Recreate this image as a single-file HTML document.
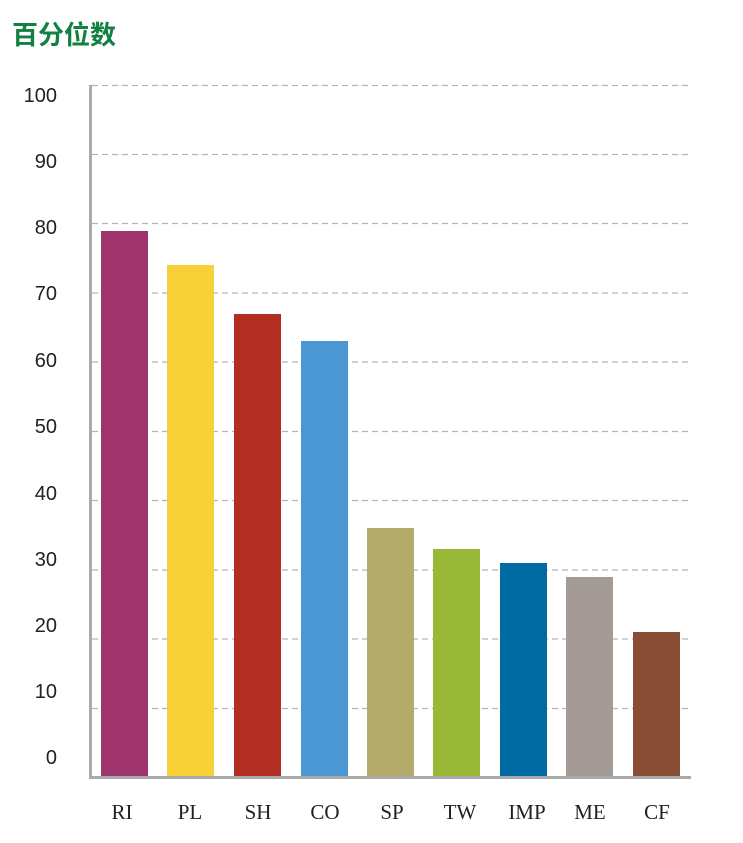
<!DOCTYPE html>
<html><head><meta charset="utf-8"><style>body{margin:0;background:#fff}</style></head>
<body>
<svg width="743" height="838" xmlns="http://www.w3.org/2000/svg">
<text x="12" y="44" font-family="Noto Sans CJK SC, sans-serif" font-weight="bold" font-size="26" fill="#128040">百分位数</text>
<g stroke="#b4b4b4" stroke-width="1.2" stroke-dasharray="6,4">
<line x1="92" x2="690" y1="85.5" y2="85.5"/><line x1="92" x2="690" y1="154.5" y2="154.5"/><line x1="92" x2="690" y1="223.5" y2="223.5"/><line x1="92" x2="690" y1="293" y2="293"/><line x1="92" x2="690" y1="362" y2="362"/><line x1="92" x2="690" y1="431.5" y2="431.5"/><line x1="92" x2="690" y1="500.5" y2="500.5"/><line x1="92" x2="690" y1="570" y2="570"/><line x1="92" x2="690" y1="639" y2="639"/><line x1="92" x2="690" y1="708.5" y2="708.5"/>
</g>
<g font-family="Liberation Sans, sans-serif" font-size="20" fill="#222" text-anchor="end">
<text x="57" y="102">100</text><text x="57" y="168">90</text><text x="57" y="234">80</text><text x="57" y="300">70</text><text x="57" y="367">60</text><text x="57" y="433">50</text><text x="57" y="500">40</text><text x="57" y="566">30</text><text x="57" y="632">20</text><text x="57" y="698">10</text><text x="57" y="764">0</text>
</g>
<rect x="101" y="231" width="47" height="547" fill="#9f336b"/>
<rect x="167" y="265" width="47" height="513" fill="#f8d038"/>
<rect x="234" y="314" width="47" height="464" fill="#b22d22"/>
<rect x="301" y="341" width="47" height="437" fill="#4b97d4"/>
<rect x="367" y="528" width="47" height="250" fill="#b4aa6a"/>
<rect x="433" y="549" width="47" height="229" fill="#9ab838"/>
<rect x="500" y="563" width="47" height="215" fill="#006aa2"/>
<rect x="566" y="577" width="47" height="201" fill="#a49b96"/>
<rect x="633" y="632" width="47" height="146" fill="#884d34"/>
<rect x="89" y="85" width="3" height="694" fill="#aaa"/>
<rect x="89" y="776" width="602" height="3" fill="#aaa"/>
<g font-family="Liberation Serif, serif" font-size="21" fill="#222" text-anchor="middle">
<text x="122" y="819">RI</text><text x="190" y="819">PL</text><text x="258" y="819">SH</text><text x="325" y="819">CO</text><text x="392" y="819">SP</text><text x="460" y="819">TW</text><text x="527" y="819">IMP</text><text x="590" y="819">ME</text><text x="657" y="819">CF</text>
</g>
</svg>
</body></html>
